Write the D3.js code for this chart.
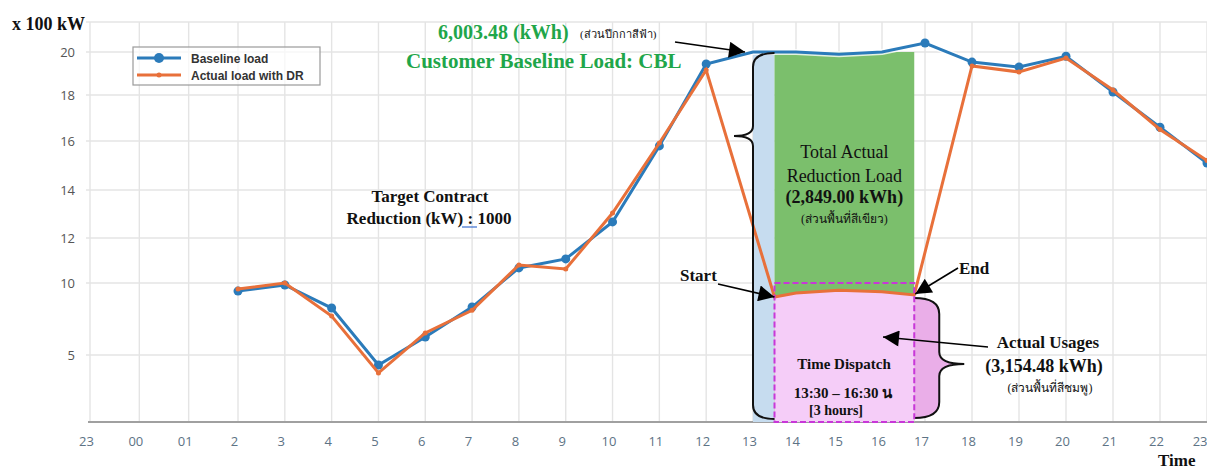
<!DOCTYPE html>
<html>
<head>
<meta charset="utf-8">
<script src="https://cdn.jsdelivr.net/npm/d3@7"></script>
<style>
  body { margin: 0; background: #fff; }
  svg { display: block; }
  .tick text { font-family: "Open Sans", "DejaVu Sans", sans-serif; }
  .serif { font-family: "Liberation Serif", "Times New Roman", serif; }
</style>
</head>
<body>
<svg id="chart" width="1207" height="469"></svg>
<script>
// hours on the axis (-1 = 23:00 previous day)
var tickHours = [-1,0,1,2,3,4,5,6,7,8,9,10,11,12,13,14,15,16,17,18,19,20,21,22,23]
var tickLabels = ['23','00','01','2','3','4','5','6','7','8','9','10','11','12','13','14','15','16','17','18','19','20','21','22','23']
var yTicks = [5,10,12,14,16,18,20]

// Baseline load (x 100 kW)
var baseHours = [2,3,4,5,6,7,8,9,10,11,12,13,14,15,16,17,18,19,20,21,22,23]
var baseline  = [9.44,9.86,8.26,4.25,6.25,8.33,10.67,11.07,12.67,15.8,19.44,20.0,20.0,19.9,20.0,20.42,19.53,19.3,19.8,18.14,16.6,15.1]

// Actual load with DR (x 100 kW)
var actHours = [2,3,4,5,6,7,8,9,10,11,12,13.5,14,15,16,16.75,18,19,20,21,22,23]
var actual   = [9.58,10.0,7.7,3.66,6.53,8.1,10.8,10.62,13.04,15.92,19.16,9.03,9.3,9.5,9.4,9.17,19.35,19.07,19.72,18.23,16.5,15.2]

var dispatchStart = 13.5
var dispatchEnd = 16.75
var cblLevel = 20

var svg = d3.select('#chart')

// the source image has uneven spacing, so piecewise scales
var x = d3.scaleLinear().domain([-1,2,13,17,23]).range([90,238,753,925,1207])
var y = d3.scaleLinear().domain([0,5,10,12,14,16,18,20,21.4]).range([422,355,283,238,190,141,95,52,22])

var blue = '#2b7bba', orange = '#e8703a'

// grid
var grid = svg.append('g')
grid.selectAll('line.v').data(tickHours).enter().append('line')
  .attr('x1', function(d){return x(d)}).attr('x2', function(d){return x(d)})
  .attr('y1', y(21.4)).attr('y2', y(0))
  .attr('stroke', '#e4e4e4').attr('stroke-width', 1.4)
grid.selectAll('line.h').data(yTicks.concat([21.4])).enter().append('line')
  .attr('x1', 86).attr('x2', 1207)
  .attr('y1', function(d){return y(d)}).attr('y2', function(d){return y(d)})
  .attr('stroke', '#e4e4e4').attr('stroke-width', 1.4)

// axes
var xAxis = svg.append('g').attr('transform', 'translate(0,' + y(0) + ')')
  .call(d3.axisBottom(x).tickValues(tickHours).tickFormat(function(d,i){return tickLabels[i]}).tickSize(0).tickPadding(15))
xAxis.select('.domain').remove()
xAxis.selectAll('text').attr('dx', -4).attr('font-size', 13).attr('fill', '#5d7385')
xAxis.selectAll('.tick:last-of-type text').attr('dx', 0).attr('text-anchor', 'end')
svg.append('line').attr('x1', 88).attr('x2', 1207).attr('y1', y(0)).attr('y2', y(0))
  .attr('stroke', '#a0a0a0').attr('stroke-width', 2)

var yAxis = svg.append('g').attr('transform', 'translate(89,0)')
  .call(d3.axisLeft(y).tickValues(yTicks).tickSize(0).tickPadding(14))
yAxis.select('.domain').remove()
yAxis.selectAll('text').attr('font-size', 13).attr('fill', '#555')

// shaded areas
svg.append('rect')
  .attr('x', x(13)).attr('width', x(dispatchStart) - x(13))
  .attr('y', y(cblLevel)).attr('height', y(0) - y(cblLevel))
  .attr('fill', '#c6dcef')
svg.append('rect')
  .attr('x', x(dispatchStart)).attr('width', x(dispatchEnd) - x(dispatchStart))
  .attr('y', y(cblLevel)).attr('height', y(0) - y(cblLevel))
  .attr('fill', '#7bbf6c')

var inDispatch = actHours.map(function(h,i){return {h:h, v:actual[i]}})
  .filter(function(d){return d.h >= dispatchStart && d.h <= dispatchEnd})
svg.append('path').datum(inDispatch)
  .attr('d', d3.area().x(function(d){return x(d.h)}).y0(y(0)).y1(function(d){return y(d.v)}))
  .attr('fill', '#f5cdf8')

// right brace (filled darker pink)
var bx = x(dispatchEnd), bTop = y(inDispatch[inDispatch.length-1].v) + 3, bBot = y(0) - 4
var bMid = (bTop + bBot) / 2 + 6
var braceR = 'M' + bx + ',' + bTop
  + ' Q' + (bx+25) + ',' + bTop + ' ' + (bx+25) + ',' + (bTop+16)
  + ' L' + (bx+25) + ',' + (bMid-12)
  + ' Q' + (bx+25) + ',' + bMid + ' ' + (bx+50) + ',' + bMid
  + ' Q' + (bx+25) + ',' + bMid + ' ' + (bx+25) + ',' + (bMid+12)
  + ' L' + (bx+25) + ',' + (bBot-16)
  + ' Q' + (bx+25) + ',' + bBot + ' ' + bx + ',' + bBot
svg.append('path').attr('d', braceR + ' Z').attr('fill', '#eaaee8')
svg.append('path').attr('d', braceR).attr('fill', 'none').attr('stroke', '#111').attr('stroke-width', 2)

// lines
var line = d3.line().x(function(d){return x(d[0])}).y(function(d){return y(d[1])})
var baseData = baseHours.map(function(h,i){return [h, baseline[i]]})
var actData = actHours.map(function(h,i){return [h, actual[i]]})

svg.append('path').datum(baseData).attr('d', line)
  .attr('fill', 'none').attr('stroke', '#fff').attr('stroke-width', 6).attr('opacity', 0.8)
svg.append('path').datum(baseData).attr('d', line)
  .attr('fill', 'none').attr('stroke', blue).attr('stroke-width', 3)
svg.selectAll('circle.base').data(baseData.filter(function(d){return d[0] < 13 || d[0] > 16})).enter()
  .append('circle').attr('class', 'base')
  .attr('cx', function(d){return x(d[0])}).attr('cy', function(d){return y(d[1])})
  .attr('r', 4.5).attr('fill', blue)

svg.append('path').datum(actData).attr('d', line)
  .attr('fill', 'none').attr('stroke', orange).attr('stroke-width', 3)
svg.selectAll('circle.act').data(actData.filter(function(d){return d[0] < 13 || d[0] > 17})).enter()
  .append('circle').attr('class', 'act')
  .attr('cx', function(d){return x(d[0])}).attr('cy', function(d){return y(d[1])})
  .attr('r', 2.5).attr('fill', orange)

// dashed dispatch window
svg.append('rect')
  .attr('x', x(dispatchStart)).attr('width', x(dispatchEnd) - x(dispatchStart))
  .attr('y', y(10)).attr('height', y(0) - y(10))
  .attr('fill', 'none').attr('stroke', '#c837d8').attr('stroke-width', 2).attr('stroke-dasharray', '6,3')

// left brace
var lx = x(13), lTop = y(cblLevel) + 1, lBot = y(0) - 3, lTip = 136
var braceL = 'M' + x(dispatchStart) + ',' + lTop
  + ' Q' + lx + ',' + lTop + ' ' + lx + ',' + (lTop+14)
  + ' L' + lx + ',' + (lTip-10)
  + ' Q' + lx + ',' + lTip + ' ' + (lx-19) + ',' + lTip
  + ' Q' + lx + ',' + lTip + ' ' + lx + ',' + (lTip+10)
  + ' L' + lx + ',' + (lBot-14)
  + ' Q' + lx + ',' + lBot + ' ' + x(dispatchStart) + ',' + lBot
svg.append('path').attr('d', braceL).attr('fill', 'none').attr('stroke', '#111').attr('stroke-width', 2)

// arrows
var defs = svg.append('defs')
defs.append('marker').attr('id', 'head').attr('viewBox', '0 0 10 10')
  .attr('refX', 10).attr('refY', 5).attr('markerWidth', 20).attr('markerHeight', 16)
  .attr('markerUnits', 'userSpaceOnUse').attr('orient', 'auto')
  .append('path').attr('d', 'M0,0 L10,5 L0,10 Z').attr('fill', '#000')

function arrow(x1, y1, x2, y2){
  svg.append('line').attr('x1', x1).attr('y1', y1).attr('x2', x2).attr('y2', y2)
    .attr('stroke', '#000').attr('stroke-width', 1.6).attr('marker-end', 'url(#head)')
}
arrow(675, 42, x(13) - 8, y(cblLevel))
arrow(718, 284, x(dispatchStart), y(actual[11]))
arrow(958, 268, x(dispatchEnd) + 1, y(actual[15]) - 1)
arrow(988, 347, 883, 337)

// texts
function label(txt, tx, ty, size, opts){
  opts = opts || {}
  return svg.append('text').attr('class', 'serif')
    .attr('x', tx).attr('y', ty).attr('font-size', size)
    .attr('font-weight', opts.normal ? 'normal' : 'bold')
    .attr('text-anchor', opts.anchor || 'start')
    .attr('fill', opts.color || '#111')
    .text(txt)
}
label('x 100 kW', 12, 30, 18)
label('Time', 1158, 466, 17)

var green = '#1fa64a'
label('6,003.48 (kWh)', 438, 39, 20, {color: green})
label('(ส่วนปีกกาสีฟ้า)', 580, 38, 11, {normal: true})
label('Customer Baseline Load: CBL', 406, 68, 21, {color: green})

label('Target Contract', 430, 202, 17, {anchor: 'middle'})
label('Reduction (kW) : 1000', 429, 224, 17, {anchor: 'middle'})
svg.append('line').attr('x1', 462).attr('x2', 477).attr('y1', 227).attr('y2', 227)
  .attr('stroke', '#3b6fd0').attr('stroke-width', 1.2)

var cx = (x(dispatchStart) + x(dispatchEnd)) / 2
label('Total Actual', cx, 158, 18, {anchor: 'middle', normal: true})
label('Reduction Load', cx, 182, 18, {anchor: 'middle', normal: true})
label('(2,849.00 kWh)', cx, 203, 18, {anchor: 'middle'})
label('(ส่วนพื้นที่สีเขียว)', cx, 223, 12, {anchor: 'middle', normal: true})

label('Start', 680, 281, 17)
label('End', 959, 274, 17)

label('Actual Usages', 1048, 348, 17, {anchor: 'middle'})
label('(3,154.48 kWh)', 1044, 372, 18, {anchor: 'middle'})
label('(ส่วนพื้นที่สีชมพู)', 1050, 392, 12, {anchor: 'middle', normal: true})

label('Time Dispatch', 844, 369, 15, {anchor: 'middle'})
label('13:30 – 16:30 น', 843, 398, 15, {anchor: 'middle'})
label('[3 hours]', 836, 415, 14, {anchor: 'middle'})

// legend
var leg = svg.append('g').attr('transform', 'translate(133,47)')
leg.append('rect').attr('width', 187).attr('height', 38)
  .attr('fill', '#fff').attr('fill-opacity', 0.7).attr('stroke', '#9a9a9a').attr('stroke-width', 1.2)
var legItems = [{name: 'Baseline load', color: blue, r: 5}, {name: 'Actual load with DR', color: orange, r: 2.5}]
var li = leg.selectAll('g.item').data(legItems).enter().append('g')
  .attr('transform', function(d,i){return 'translate(0,' + (11 + i*17) + ')'})
li.append('line').attr('x1', 4).attr('x2', 48).attr('stroke', function(d){return d.color}).attr('stroke-width', 3)
li.append('circle').attr('cx', 26).attr('r', function(d){return d.r}).attr('fill', function(d){return d.color})
li.append('text').attr('x', 58).attr('y', 5).attr('font-size', 12).attr('font-weight', 'bold')
  .attr('font-family', '"Liberation Sans", Arial, sans-serif').attr('fill', '#333')
  .text(function(d){return d.name})
</script>
</body>
</html>
